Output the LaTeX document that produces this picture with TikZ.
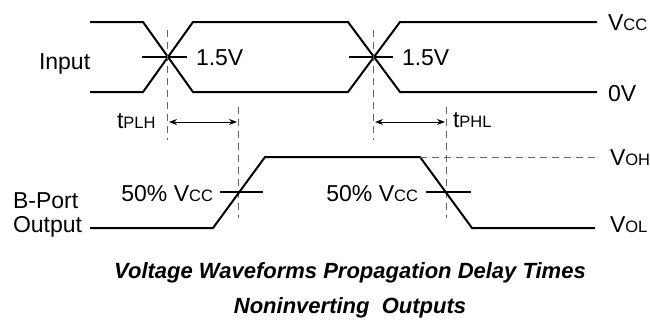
\documentclass[tikz,border=0pt]{standalone}
\usepackage{fontspec}
\setmainfont{Liberation Sans}
\usetikzlibrary{arrows.meta}
\newcommand\smc[1]{{\fontsize{16.5}{18}\selectfont #1}}
\tikzset{
  wave/.style={line width=2pt, line join=miter},
  thintick/.style={line width=1.1pt},
  midtick/.style={line width=2pt},
  guide/.style={line width=1pt, draw=black!60, dash pattern=on 7pt off 5pt},
  dimarrow/.style={line width=1pt, {Stealth[length=8pt,width=6pt]}-{Stealth[length=8pt,width=6pt]}},
  lbl/.style={font=\fontsize{23}{26}\selectfont, inner sep=0pt, outer sep=0pt},
  ttl/.style={font=\fontsize{22}{24}\selectfont\bfseries\itshape, inner sep=0pt, anchor=base}
}
\begin{document}
\begin{tikzpicture}[x=1pt,y=-1pt]
\useasboundingbox (0,0) rectangle (650,324);
% input waveform
\draw[wave] (90,22) -- (143,22) -- (193,92) -- (348,92) -- (400,22) -- (597,22);
\draw[wave] (90,92) -- (143,92) -- (193,22) -- (348,22) -- (400,92) -- (597,92);
% 1.5V ticks
\draw[thintick] (142,57) -- (187,57);
\draw[thintick] (349,57) -- (393,57);
% dashed guides
\coordinate (g1t) at (167,30);  \coordinate (g1b) at (167,140);
\coordinate (g2t) at (373,30);  \coordinate (g2b) at (373,140);
\coordinate (g3t) at (238,107); \coordinate (g3b) at (238,218);
\coordinate (g4t) at (446,107); \coordinate (g4b) at (446,218);
\draw[guide] (g1t) -- (g1b);
\draw[guide] (g2t) -- (g2b);
\draw[guide] (g3t) -- (g3b);
\draw[guide] (g4t) -- (g4b);
% delay arrows
\coordinate (a1) at (169,122); \coordinate (a2) at (237,122);
\coordinate (a3) at (375,122); \coordinate (a4) at (445,122);
\draw[dimarrow] (a1) -- (a2);
\draw[dimarrow] (a3) -- (a4);
% output waveform
\draw[wave] (90,228) -- (213,228) -- (265,157) -- (420,157) -- (472,228) -- (595,228);
\draw[guide] (420,157) -- (595,157);
% 50% ticks
\draw[midtick] (220,192) -- (263,192);
\draw[midtick] (426,192) -- (471,192);
% labels
\node[lbl, anchor=base west] (inp) at (39,69) {Input};
\node[lbl, anchor=base west] (v15a) at (196,65) {1.5V};
\node[lbl, anchor=base west] (v15b) at (402,65) {1.5V};
\node[lbl, anchor=base west] (vcc) at (608,30) {V\smc{CC}};
\node[lbl, anchor=base west] (zv) at (608,101) {0V};
\node[lbl, anchor=base west] (voh) at (610,165) {V\smc{OH}};
\node[lbl, anchor=base west] (vol) at (610,232) {V\smc{OL}};
\node[lbl, anchor=base west] (bport) at (13,208) {B-Port};
\node[lbl, anchor=base west] (outp) at (13,232) {Output};
\node[lbl, anchor=base west] (tplh) at (117,128) {t\smc{PLH}};
\node[lbl, anchor=base west] (tphl) at (453,127) {t\smc{PHL}};
\node[lbl, anchor=base east] (p50a) at (213,201) {50\% V\smc{CC}};
\node[lbl, anchor=base east] (p50b) at (418,201) {50\% V\smc{CC}};
\node[ttl] (t1) at (350,278) {Voltage Waveforms Propagation Delay Times};
\node[ttl] (t2) at (350,313) {Noninverting\ \ Outputs};
\end{tikzpicture}
\end{document}
